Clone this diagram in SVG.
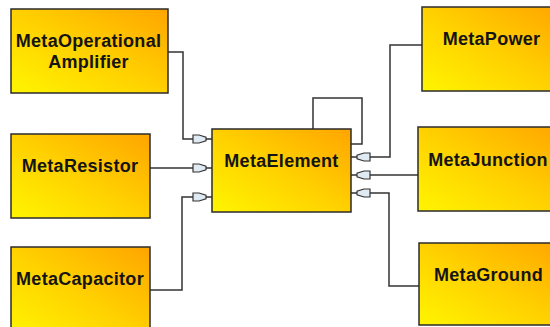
<svg xmlns="http://www.w3.org/2000/svg" width="550" height="327" viewBox="0 0 550 327">
  <defs>
    <linearGradient id="boxFill" x1="0" y1="1" x2="1" y2="0">
      <stop offset="0" stop-color="#fff500"/>
      <stop offset="0.5" stop-color="#ffd000"/>
      <stop offset="1" stop-color="#ffa500"/>
    </linearGradient>
    <marker id="plug" markerUnits="userSpaceOnUse" viewBox="-20 -6 22 12" refX="0" refY="0" markerWidth="22" markerHeight="12" orient="auto" overflow="visible">
      <path d="M-19,-4 L-13,-4 L-6,-1.8 L-6,1.8 L-13,4 L-19,4 Z" fill="#dfeaf3" stroke="#333" stroke-width="1.2"/>
    </marker>
    <style>
      .box { fill: url(#boxFill); stroke: #2b2b2b; stroke-width: 1.5; }
      .label { font-family: "Liberation Sans", Arial, sans-serif; font-weight: bold; font-size: 18px; letter-spacing: 0.3px; fill: #141414; text-anchor: middle; }
      .wire { fill: none; stroke: #333; stroke-width: 1.5; }
      .wire.in { marker-end: url(#plug); }
    </style>
  </defs>

  <g id="connectors">
    <path class="wire in" d="M167,52 H183 V139 H212"/>
    <path class="wire in" d="M150,168 H212"/>
    <path class="wire in" d="M150,290 H182 V197 H212"/>
    <path class="wire" d="M313,129 V98 H362 V144 H351"/>
    <path class="wire in" d="M422,45 H390 V157 H351"/>
    <path class="wire in" d="M418,175 H351"/>
    <path class="wire in" d="M419,286 H389 V193 H351"/>
  </g>

  <g id="MetaOperationalAmplifier">
    <rect class="box" x="11" y="9" width="157" height="84"/>
    <text class="label" x="88.5" y="47">MetaOperational</text>
    <text class="label" x="88.5" y="68">Amplifier</text>
  </g>

  <g id="MetaResistor">
    <rect class="box" x="11" y="134" width="139" height="84"/>
    <text class="label" x="80" y="172">MetaResistor</text>
  </g>

  <g id="MetaCapacitor">
    <rect class="box" x="11" y="247" width="139" height="90"/>
    <text class="label" x="80" y="285">MetaCapacitor</text>
  </g>

  <g id="MetaElement">
    <rect class="box" x="212" y="129" width="139" height="83"/>
    <text class="label" x="281.5" y="167">MetaElement</text>
  </g>

  <g id="MetaPower">
    <rect class="box" x="422" y="7" width="140" height="84"/>
    <text class="label" x="491.5" y="45">MetaPower</text>
  </g>

  <g id="MetaJunction">
    <rect class="box" x="418" y="127" width="144" height="84"/>
    <text class="label" x="488" y="165.5">MetaJunction</text>
  </g>

  <g id="MetaGround">
    <rect class="box" x="419" y="243" width="143" height="82"/>
    <text class="label" x="488.5" y="281">MetaGround</text>
  </g>
</svg>
